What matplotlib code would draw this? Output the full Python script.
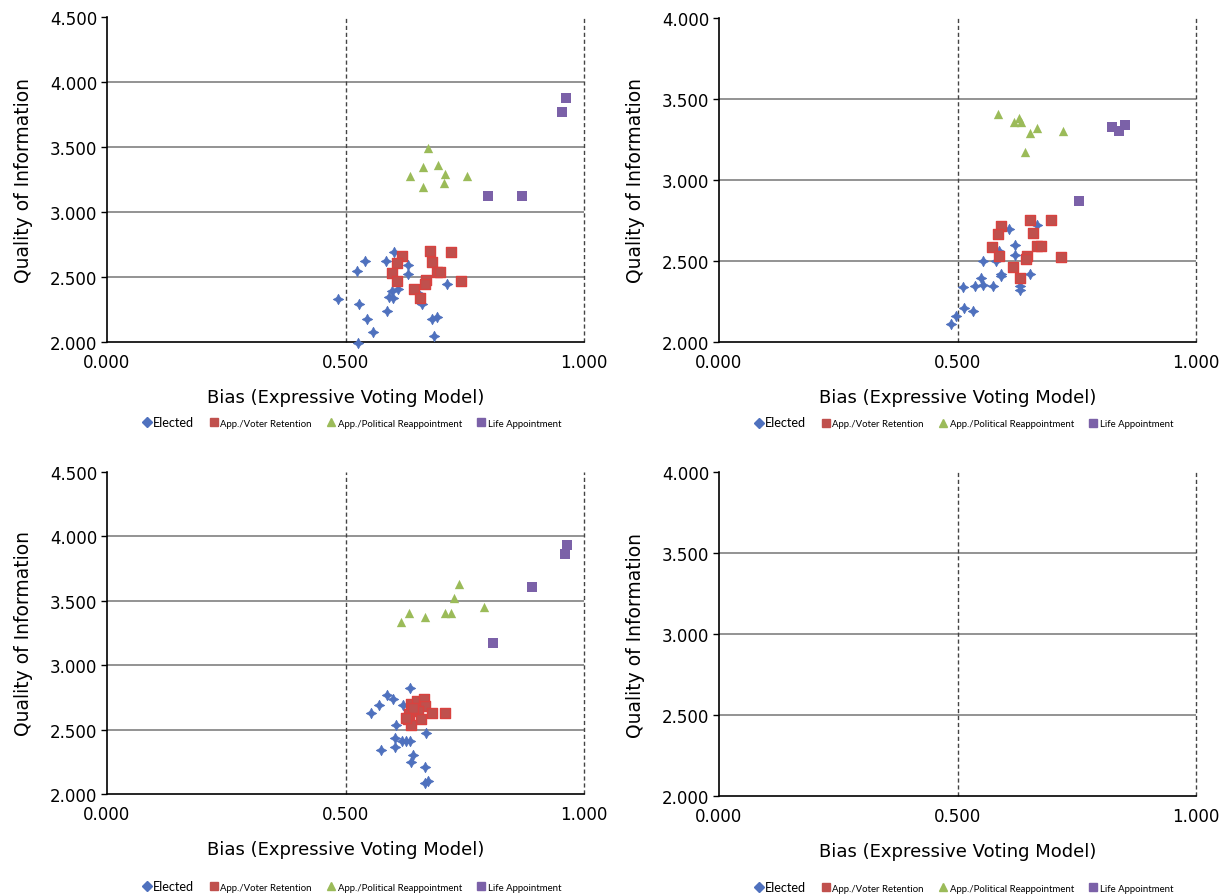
import matplotlib.pyplot as plt
from matplotlib.lines import Line2D

# Painel superior esquerdo
tl_elected_x = [0.601, 0.540, 0.585, 0.630, 0.524, 0.630, 0.611, 0.597, 0.591, 0.599, 0.653,
                0.660, 0.713, 0.485, 0.529, 0.546, 0.557, 0.586, 0.681, 0.692, 0.686, 0.526]
tl_elected_y = [2.69, 2.625, 2.62, 2.59, 2.55, 2.52, 2.41, 2.39, 2.35, 2.34, 2.38,
                2.29, 2.45, 2.33, 2.29, 2.18, 2.08, 2.24, 2.18, 2.19, 2.05, 1.99]
tl_voter_x = [0.678, 0.722, 0.618, 0.608, 0.681, 0.692, 0.699, 0.598, 0.609, 0.669, 0.667,
              0.742, 0.643, 0.657]
tl_voter_y = [2.70, 2.695, 2.66, 2.61, 2.615, 2.54, 2.54, 2.53, 2.47, 2.48, 2.45,
              2.47, 2.41, 2.34]
tl_polit_x = [0.673, 0.662, 0.693, 0.709, 0.635, 0.755, 0.662, 0.707]
tl_polit_y = [3.49, 3.35, 3.36, 3.29, 3.28, 3.28, 3.19, 3.22]
tl_life_x = [0.962, 0.953, 0.799, 0.869]
tl_life_y = [3.88, 3.77, 3.12, 3.12]

# Painel superior direito
tr_elected_x = [0.608, 0.666, 0.621, 0.586, 0.621, 0.554, 0.581, 0.591, 0.591, 0.549, 0.653,
                0.512, 0.537, 0.554, 0.575, 0.631, 0.631, 0.514, 0.532, 0.496, 0.486]
tr_elected_y = [2.70, 2.724, 2.60, 2.56, 2.539, 2.502, 2.502, 2.42, 2.406, 2.395, 2.42,
                2.341, 2.348, 2.354, 2.348, 2.344, 2.323, 2.21, 2.193, 2.163, 2.111]
tr_voter_x = [0.653, 0.697, 0.591, 0.585, 0.659, 0.666, 0.676, 0.572, 0.586, 0.646, 0.643,
              0.717, 0.616, 0.631]
tr_voter_y = [2.753, 2.753, 2.718, 2.668, 2.673, 2.593, 2.593, 2.586, 2.529, 2.529, 2.51,
              2.523, 2.461, 2.397]
tr_polit_x = [0.585, 0.628, 0.618, 0.633, 0.666, 0.652, 0.722, 0.642]
tr_polit_y = [3.407, 3.38, 3.356, 3.356, 3.32, 3.29, 3.30, 3.17]
tr_life_x = [0.823, 0.851, 0.839, 0.754]
tr_life_y = [3.33, 3.34, 3.30, 2.87]

# Painel inferior esquerdo
bl_elected_x = [0.635, 0.587, 0.600, 0.570, 0.620, 0.553, 0.605, 0.669, 0.604, 0.618, 0.627,
                0.635, 0.574, 0.603, 0.641, 0.637, 0.667, 0.667, 0.672]
bl_elected_y = [2.822, 2.77, 2.74, 2.69, 2.69, 2.628, 2.536, 2.474, 2.432, 2.409, 2.409,
                2.409, 2.342, 2.363, 2.306, 2.247, 2.213, 2.085, 2.10]
bl_voter_x = [0.637, 0.649, 0.665, 0.667, 0.651, 0.634, 0.682, 0.708, 0.630, 0.658, 0.637,
              0.642, 0.627]
bl_voter_y = [2.698, 2.724, 2.737, 2.68, 2.646, 2.62, 2.626, 2.626, 2.582, 2.582, 2.536,
              2.665, 2.59]
bl_polit_x = [0.738, 0.727, 0.790, 0.633, 0.666, 0.709, 0.722, 0.616]
bl_polit_y = [3.632, 3.524, 3.451, 3.408, 3.377, 3.408, 3.408, 3.335]
bl_life_x = [0.964, 0.961, 0.890, 0.809]
bl_life_y = [3.936, 3.861, 3.606, 3.172]

series_names = ['Elected', 'App./Voter Retention', 'App./Political Reappointment', 'Life Appointment']
x_ticks = [0.0, 0.5, 1.0]
y_ticks_left = [2.0, 2.5, 3.0, 3.5, 4.0, 4.5]
y_ticks_right = [2.0, 2.5, 3.0, 3.5, 4.0]

cor_azul = '#4F71BE'
cor_verm = '#C0504D'
cor_verde = '#9BBB59'
cor_roxo = '#7B61A8'

W, H = 1226, 895
fig = plt.figure(figsize=(W / 100, H / 100), dpi=100)


def eixo(left, top, right, bottom):
    return fig.add_axes([left / W, 1 - bottom / H, (right - left) / W, (bottom - top) / H])


def desenha(ax, dados, yticks, leg_y):
    ax.set_xlim(0, 1)
    ax.set_ylim(yticks[0], yticks[-1])
    ax.set_xticks(x_ticks)
    ax.set_xticklabels(['%.3f' % v for v in x_ticks])
    ax.set_yticks(yticks)
    ax.set_yticklabels(['%.3f' % v for v in yticks])
    for s in ['top', 'right']:
        ax.spines[s].set_visible(False)
    for s in ['left', 'bottom']:
        ax.spines[s].set_color('black')
        ax.spines[s].set_linewidth(1.2)
    # linhas de grade horizontais (sem a do topo)
    for v in yticks[1:-1]:
        ax.axhline(v, color='#8a8a8a', lw=1.3, zorder=1)
    # verticais tracejadas
    for v in x_ticks[1:]:
        ax.axvline(v, color='#444444', lw=1.0, ls=(0, (3, 2)), zorder=1, clip_on=False)
    ax.tick_params(axis='y', direction='out', length=4, width=1, labelsize=12, pad=3)
    ax.tick_params(axis='x', length=0, labelsize=12, pad=8)
    ax.set_xlabel('Bias (Expressive Voting Model)', fontsize=13, labelpad=12)
    ax.set_ylabel('Quality of Information', fontsize=13.5, labelpad=12)

    if dados is not None:
        el, vo, po, li = dados
        ax.scatter(el[0], el[1], marker=(4, 1, 0), s=55, color=cor_azul, lw=0.6,
                   edgecolors=cor_azul, zorder=3, clip_on=False)
        ax.scatter(vo[0], vo[1], marker='s', s=50, color=cor_verm, edgecolors='#D9423F',
                   lw=1.0, zorder=3)
        ax.scatter(po[0], po[1], marker='^', s=45, color=cor_verde, lw=0, zorder=3)
        ax.scatter(li[0], li[1], marker='s', s=55, color=cor_roxo, lw=0, zorder=3)

    handles = [
        Line2D([], [], ls='', marker='D', ms=5, color=cor_azul),
        Line2D([], [], ls='', marker='s', ms=5.5, color=cor_verm),
        Line2D([], [], ls='', marker='^', ms=5.5, color=cor_verde),
        Line2D([], [], ls='', marker='s', ms=5.5, color=cor_roxo),
    ]
    leg = ax.legend(handles, series_names, loc='center', bbox_to_anchor=(0.515, leg_y),
                    ncol=4, frameon=False, handlelength=0.6,
                    handletextpad=0.35, columnspacing=1.75, prop={'family': 'Lato', 'size': 6.9})
    leg.get_texts()[0].set_fontsize(9.2)


ax1 = eixo(107, 18, 584, 343)
desenha(ax1, [(tl_elected_x, tl_elected_y), (tl_voter_x, tl_voter_y),
              (tl_polit_x, tl_polit_y), (tl_life_x, tl_life_y)], y_ticks_left, -0.245)

ax2 = eixo(719, 19, 1196, 343)
desenha(ax2, [(tr_elected_x, tr_elected_y), (tr_voter_x, tr_voter_y),
              (tr_polit_x, tr_polit_y), (tr_life_x, tr_life_y)], y_ticks_right, -0.248)

ax3 = eixo(107, 473, 584, 795)
desenha(ax3, [(bl_elected_x, bl_elected_y), (bl_voter_x, bl_voter_y),
              (bl_polit_x, bl_polit_y), (bl_life_x, bl_life_y)], y_ticks_left, -0.285)

ax4 = eixo(719, 473, 1196, 797)
desenha(ax4, None, y_ticks_right, -0.28)

fig.savefig('out.png', dpi=100)
